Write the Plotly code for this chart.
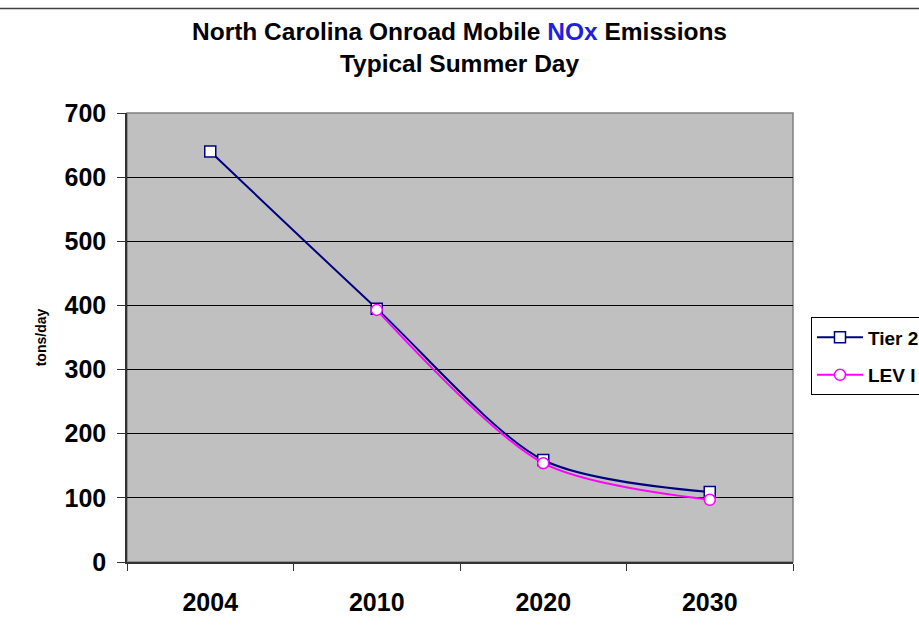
import plotly.graph_objects as go

# Onroad mobile NOx emissions, tons/day, typical summer day
years = ["2004", "2010", "2020", "2030"]
tier2 = [640, 395, 159, 109]
lev1 = [None, 393, 154, 97]
y_ticks = [0, 100, 200, 300, 400, 500, 600, 700]

xpos = list(range(len(years)))
font_family = "Liberation Sans, Arial, sans-serif"

fig = go.Figure()
fig.add_trace(go.Scatter(
    x=xpos, y=tier2, name="<b>Tier 2</b>", mode="lines+markers",
    line=dict(color="#000080", width=2, shape="spline", smoothing=0.8),
    marker=dict(symbol="square", size=11, color="white",
                line=dict(color="#000080", width=1.5)),
    legendgroup="a",
))
fig.add_trace(go.Scatter(
    x=xpos, y=lev1, name="<b>LEV I</b>", mode="lines+markers",
    line=dict(color="#FF00FF", width=2, shape="spline", smoothing=0.8),
    marker=dict(symbol="circle", size=11, color="white",
                line=dict(color="#FF00FF", width=1.5)),
    legendgroup="b",
))

# plot-area frame
fig.add_shape(type="rect", xref="paper", yref="paper", x0=0, x1=1, y0=0, y1=1,
              line=dict(color="#808080", width=1.5), layer="below")
# rule across the top of the page
fig.add_shape(type="line", xref="paper", yref="paper", x0=-0.2, x1=1.2,
              y0=1.233, y1=1.233, line=dict(color="#404040", width=1.5))

fig.update_layout(
    width=919, height=638,
    margin=dict(l=127, r=126, t=113, b=76, autoexpand=False),
    paper_bgcolor="white", plot_bgcolor="#C0C0C0",
    font=dict(family=font_family, color="black"),
    title=dict(
        text="<b>North Carolina Onroad Mobile <span style='color:#1F1FE0'>NOx</span> Emissions"
             "<br>Typical Summer Day</b>",
        x=0.5, xanchor="center", y=0.9375, yanchor="middle",
        font=dict(size=24.5, family=font_family),
    ),
    showlegend=True,
    legend=dict(
        x=1.027, y=0.545, xanchor="left", yanchor="top",
        bgcolor="white", bordercolor="black", borderwidth=1,
        font=dict(size=19, family=font_family),
        itemwidth=46,
        traceorder="grouped", tracegroupgap=10,
    ),
    xaxis=dict(
        range=[-0.5, 3.5], tickmode="array", tickvals=xpos, ticktext=[f"<b>{y}</b>" for y in years],
        ticks="", showgrid=False, zeroline=False,
        showline=True, linecolor="#333333", linewidth=1.5,
        tickfont=dict(size=25, family=font_family),
        ticklabelstandoff=17,
        minor=dict(tickmode="array", tickvals=[-0.5, 0.5, 1.5, 2.5, 3.5],
                   ticks="outside", ticklen=7, tickcolor="#333333", tickwidth=1, showgrid=False),
    ),
    yaxis=dict(
        range=[0, 700], tickmode="array", tickvals=y_ticks,
        ticktext=[f"<b>{v}</b>" for v in y_ticks],
        ticks="outside", ticklen=8, tickcolor="#333333",
        showgrid=True, gridcolor="black", gridwidth=1, zeroline=False,
        showline=True, linecolor="#333333", linewidth=1.5,
        tickfont=dict(size=25, family=font_family),
        ticklabelstandoff=6,
        title=dict(text="<b>tons/day</b>", font=dict(size=14, family=font_family), standoff=15),
    ),
)

fig.write_html("out.html")
